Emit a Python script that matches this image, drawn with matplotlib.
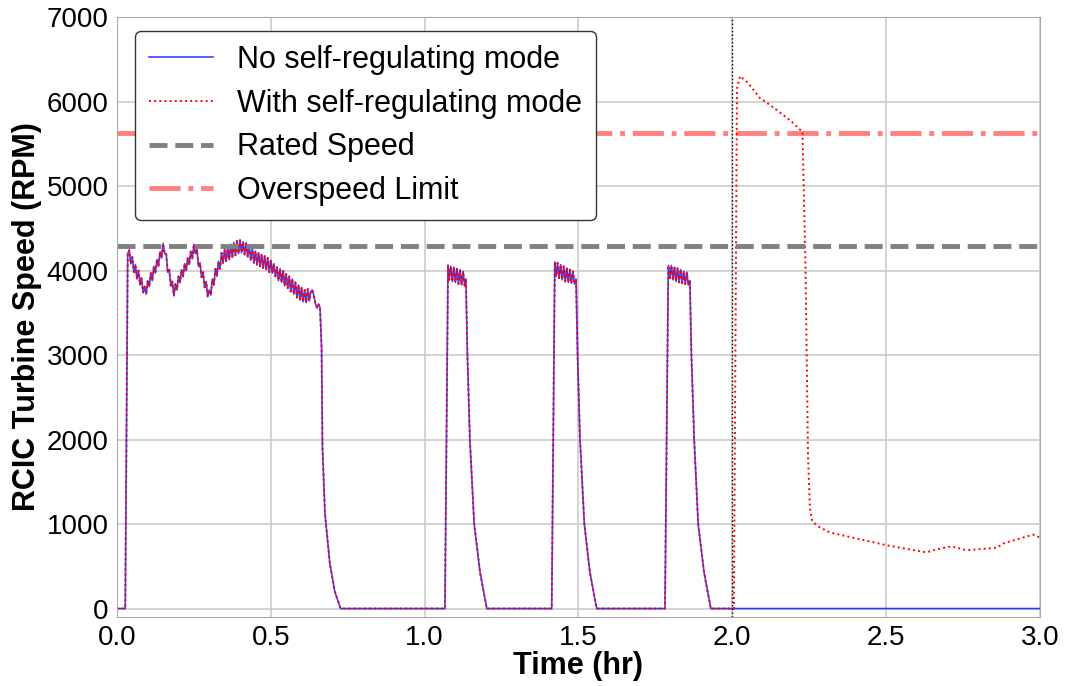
import matplotlib
matplotlib.use("Agg")
import matplotlib.pyplot as plt

plt.rcParams['font.family'] = ['Liberation Sans', 'DejaVu Sans']

# Shared trace (both cases identical until 2.0 hr)
t_common = [
    0.000, 0.027, 0.035,
    0.040, 0.045, 0.050, 0.055, 0.060, 0.065, 0.070, 0.075, 0.080, 0.085,
    0.090, 0.095, 0.100, 0.105, 0.110, 0.115, 0.120, 0.125, 0.130, 0.135,
    0.140, 0.145, 0.150, 0.155, 0.160, 0.165, 0.170, 0.175, 0.180, 0.185,
    0.190, 0.195, 0.200, 0.205, 0.210, 0.215, 0.220, 0.225, 0.230, 0.235,
    0.240, 0.245, 0.250, 0.255, 0.260, 0.265, 0.270, 0.275, 0.280, 0.285,
    0.290, 0.295, 0.300, 0.305, 0.310, 0.315, 0.320, 0.325, 0.330, 0.335,
    0.340, 0.345, 0.350, 0.355, 0.360, 0.365, 0.370, 0.375, 0.380, 0.385,
    0.390, 0.395, 0.400, 0.405, 0.410, 0.415, 0.420, 0.425, 0.430, 0.435,
    0.440, 0.445, 0.450, 0.455, 0.460, 0.465, 0.470, 0.475, 0.480, 0.485,
    0.490, 0.495, 0.500, 0.505, 0.510, 0.515, 0.520, 0.525, 0.530, 0.535,
    0.540, 0.545, 0.550, 0.555, 0.560, 0.565, 0.570, 0.575, 0.580, 0.585,
    0.590, 0.595, 0.600, 0.605, 0.610, 0.615, 0.620, 0.625, 0.630, 0.635,
    0.640, 0.645, 0.650, 0.655, 0.660,
    0.665, 0.668, 0.676, 0.692, 0.708, 0.727,
    # pulse 1
    1.066, 1.076, 1.080, 1.085, 1.090, 1.095, 1.100, 1.105, 1.110, 1.115,
    1.120, 1.125, 1.130, 1.134, 1.139, 1.147, 1.161, 1.180, 1.202,
    # pulse 2
    1.413, 1.423, 1.427, 1.432, 1.437, 1.442, 1.447, 1.452, 1.457, 1.462,
    1.467, 1.472, 1.477, 1.482, 1.487, 1.492, 1.497, 1.505, 1.519, 1.537,
    1.559,
    # pulse 3
    1.781, 1.792, 1.797, 1.802, 1.807, 1.812, 1.817, 1.822, 1.827, 1.832,
    1.837, 1.842, 1.847, 1.852, 1.857, 1.862, 1.867, 1.876, 1.889, 1.908,
    1.930,
    2.000,
]
rpm_common = [
    0, 0, 4200,
    4240, 4080, 4160, 3980, 4070, 3900, 4000, 3830, 3910, 3740,
    3810, 3720, 3880, 3810, 3970, 3880, 4050, 3970, 4130, 4050,
    4220, 4150, 4320, 4200, 4200, 3980, 4010, 3820, 3870, 3700,
    3840, 3770, 3930, 3860, 4010, 3930, 4080, 4000, 4150, 4070,
    4230, 4140, 4310, 4200, 4250, 4050, 4090, 3920, 3980, 3800,
    3870, 3690, 3770, 3710, 3900, 3830, 4020, 3930, 4110, 4020,
    4210, 4090, 4250, 4110, 4280, 4130, 4310, 4160, 4330, 4180,
    4350, 4200, 4360, 4210, 4340, 4190, 4330, 4160, 4300, 4120,
    4270, 4090, 4230, 4070, 4210, 4050, 4190, 4030, 4170, 4010,
    4150, 3980, 4120, 3970, 4080, 3930, 4040, 3880, 4020, 3860,
    4000, 3820, 3960, 3790, 3930, 3750, 3900, 3720, 3860, 3680,
    3830, 3650, 3800, 3630, 3770, 3620, 3780, 3640, 3750, 3770,
    3700, 3610, 3560, 3600, 3560,
    3090, 1900, 1125, 530, 200, 0,
    0, 4060, 3890, 4050, 3870, 4040, 3860, 4020, 3840, 4010,
    3830, 3990, 3820, 3900, 3000, 2000, 1000, 430, 0,
    0, 4100, 3930, 4090, 3910, 4070, 3890, 4050, 3870, 4030,
    3860, 4010, 3850, 3990, 3840, 3900, 3000, 2000, 1000, 430,
    0,
    0, 4060, 3910, 4060, 3890, 4040, 3870, 4030, 3860, 4010,
    3850, 3990, 3840, 3980, 3830, 3880, 3000, 2000, 1000, 430,
    0,
    0,
]

# After 2.0 hr
t_no_reg_tail = [3.0]
rpm_no_reg_tail = [0]

t_reg_tail = [2.005, 2.015, 2.025, 2.051, 2.090, 2.122, 2.187, 2.228,
              2.238, 2.246, 2.252, 2.258, 2.270, 2.285, 2.317, 2.390,
              2.500, 2.630, 2.665, 2.710, 2.730, 2.760, 2.860, 2.880,
              2.935, 2.977, 3.000]
rpm_reg_tail = [0, 6150, 6300, 6220, 6040, 5960, 5780, 5640,
                4000, 1800, 1200, 1050, 1000, 960, 900, 840,
                750, 665, 700, 735, 720, 690, 720, 770,
                830, 875, 840]

rated_speed = 4290
overspeed_limit = 5625
switch_time = 2.0

t_no_reg = t_common + t_no_reg_tail
rpm_no_reg = rpm_common + rpm_no_reg_tail
t_reg = t_common + t_reg_tail
rpm_reg = rpm_common + rpm_reg_tail

fig = plt.figure(figsize=(10.69, 6.86), dpi=100)
ax = fig.add_axes([0.1094, 0.1006, 0.8635, 0.8746])

ax.plot(t_no_reg, rpm_no_reg, color='blue', lw=1.2, alpha=0.75,
        label='No self-regulating mode')
ax.plot(t_reg, rpm_reg, color='red', lw=1.4, linestyle=':',
        label='With self-regulating mode')
ax.axhline(rated_speed, color='gray', lw=3.5, linestyle='--',
           label='Rated Speed')
ax.axhline(overspeed_limit, color='red', alpha=0.5, lw=3.5, linestyle='-.',
           label='Overspeed Limit')
ax.axvline(switch_time, color='black', lw=1.0, linestyle=':')

ax.set_xlim(0, 3.0)
ax.set_ylim(-100, 7000)
ax.set_xticks([0, 0.5, 1.0, 1.5, 2.0, 2.5, 3.0])
ax.set_yticks(range(0, 7001, 1000))
ax.tick_params(labelsize=20, length=0, pad=6)
ax.grid(color='#cccccc', lw=1.2)
ax.set_axisbelow(True)
for s in ax.spines.values():
    s.set_color('#aaaaaa')

ax.set_xlabel('Time (hr)', fontsize=22, fontweight='bold', labelpad=0)
ax.set_ylabel('RCIC Turbine Speed (RPM)', fontsize=22, fontweight='bold',
              labelpad=3)

leg = ax.legend(loc='upper left', fontsize=22, handlelength=2.1,
                labelspacing=0.45, borderpad=0.45, fancybox=True,
                bbox_to_anchor=(0.003, 1.002))
leg.get_frame().set_edgecolor('#333333')
leg.get_frame().set_alpha(1.0)

fig.savefig('out.png', dpi=100)
